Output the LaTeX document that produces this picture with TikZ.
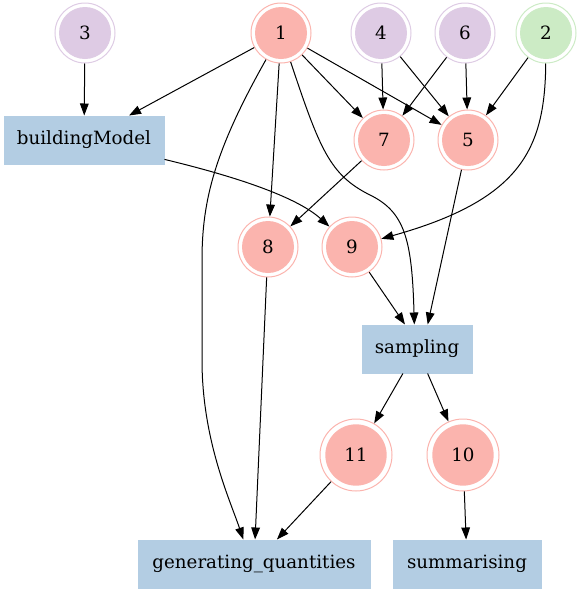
\documentclass[tikz,border=0pt]{standalone}
\usepackage{fontspec}
\setmainfont{DejaVu Serif}
\usetikzlibrary{arrows.meta}
\definecolor{stepblue}{HTML}{B3CDE3}
\definecolor{varred}{HTML}{FBB4AE}
\definecolor{datapurple}{HTML}{DECBE4}
\definecolor{constgreen}{HTML}{CCEBC5}

\tikzset{
  dcirc/.style n args={3}{circle, draw=#1, line width=0.75pt, fill=white,
    minimum size=#2, inner sep=0pt,
    path picture={\fill[#1] (path picture bounding box.center) circle (#3);}},
  stepbox/.style={rectangle, draw=stepblue, fill=stepblue, line width=0.75pt,
    minimum height=36pt},
  arr/.style={-{Triangle[length=9pt,width=6.5pt]}, line width=0.75pt}
}

\begin{document}
\begin{tikzpicture}[x=0.75pt, y=-0.75pt, font=\fontsize{13.7}{16}\selectfont]
    \useasboundingbox (0,0) rectangle (582,594);
    % top row
    \node[dcirc={datapurple}{45pt}{19.5pt}] (n3) at (85,33) {3};
    \node[dcirc={varred}{45pt}{19.5pt}] (n1) at (281,33) {1};
    \node[dcirc={datapurple}{45pt}{19.5pt}] (n4) at (381,33) {4};
    \node[dcirc={datapurple}{45pt}{19.5pt}] (n6) at (465,33) {6};
    \node[dcirc={constgreen}{45pt}{19.5pt}] (n2) at (546,33) {2};
    % second row
    \node[stepbox, minimum width=120pt] (bm) at (84,140) {buildingModel};
    \node[dcirc={varred}{45pt}{19.5pt}] (n7) at (384,140) {7};
    \node[dcirc={varred}{45pt}{19.5pt}] (n5) at (468,140) {5};
    % third row
    \node[dcirc={varred}{45pt}{19.5pt}] (n8) at (268,247) {8};
    \node[dcirc={varred}{45pt}{19.5pt}] (n9) at (352,247) {9};
    \node[stepbox, minimum width=82.5pt] (samp) at (417,349) {sampling};
    % bottom rows
    \node[dcirc={varred}{54pt}{23pt}] (n11) at (356,455) {11};
    \node[dcirc={varred}{54pt}{23pt}] (n10) at (463,455) {10};
    \node[stepbox, minimum width=174pt] (gq) at (254,564) {generating\_quantities};
    \node[stepbox, minimum width=111pt] (summ) at (467,564) {summarising};

    \draw[arr] (n3) -- (bm);
    \draw[arr] (n1) -- (bm);
    \draw[arr] (n1) -- (n7);
    \draw[arr] (n1) -- (n5);
    \draw[arr] (n1) -- (n8);
    \draw[arr] (n1) .. controls (320,150) and (330,175) .. (370,195)
        .. controls (405,212) and (412,240) .. ([xshift=-2pt]samp.north);
    \draw[arr] (n1) .. controls (215,150) and (202,200) .. (202,260)
        -- (202,360) .. controls (202,440) and (230,500) .. ([xshift=-8pt]gq.north);
    \draw[arr] (n4) -- (n7);
    \draw[arr] (n4) -- (n5);
    \draw[arr] (n6) -- (n7);
    \draw[arr] (n6) -- (n5);
    \draw[arr] (n2) -- (n5);
    \draw[arr] (n2) .. controls (545,150) and (520,200) .. (n9);
    \draw[arr] (bm) .. controls (250,180) and (300,200) .. (n9);
    \draw[arr] (n7) -- (n8);
    \draw[arr] (n5) -- ([xshift=8pt]samp.north);
    \draw[arr] (n9) -- ([xshift=-9pt]samp.north);
    \draw[arr] (n8) -- (gq);
    \draw[arr] (samp) -- (n11);
    \draw[arr] (samp) -- (n10);
    \draw[arr] (n11) -- (gq);
    \draw[arr] (n10) -- (summ);
\end{tikzpicture}
\end{document}
